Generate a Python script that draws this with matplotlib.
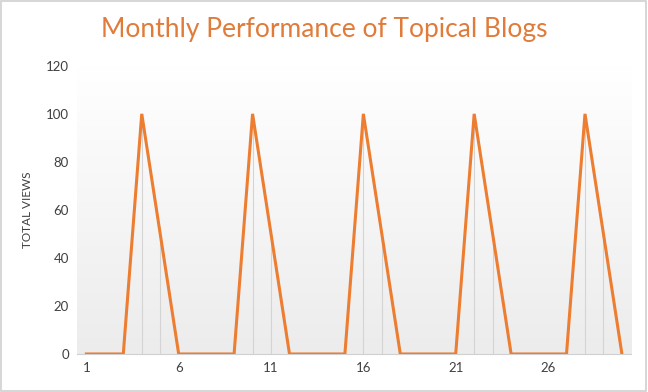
import numpy as np
import matplotlib.pyplot as plt
from matplotlib.patches import Rectangle

plt.rcParams['font.family'] = ['Lato', 'DejaVu Sans']

days = list(range(1, 31))
views = [0, 0, 0, 100, 50, 0, 0, 0, 0, 100, 50, 0, 0, 0, 0, 100, 50, 0,
         0, 0, 0, 100, 50, 0, 0, 0, 0, 100, 50, 0]
x_ticks = [1, 6, 11, 16, 21, 26]
y_ticks = [0, 20, 40, 60, 80, 100, 120]

orange = '#ED7D31'

fig = plt.figure(figsize=(6.48, 3.92), dpi=100)
fig.patches.append(Rectangle((0.002, 0.003), 0.995, 0.994, transform=fig.transFigure,
                             fill=False, edgecolor='#d0d0d0', linewidth=1.2))
ax = fig.add_axes([0.119, 0.097, 0.855, 0.735])

# gradient background, white at top to light gray at bottom
grad = np.linspace(0, 1, 256).reshape(-1, 1)
ax.imshow(grad, extent=[0, 1, 0, 1], transform=ax.transAxes, aspect='auto',
          cmap=plt.matplotlib.colors.LinearSegmentedColormap.from_list('g', ['#ffffff', '#ececec']),
          origin='upper', zorder=0)

# drop lines
for d, v in zip(days, views):
    if v > 0:
        ax.plot([d, d], [0, v], color='#d4d4d4', linewidth=0.8, zorder=1)

ax.plot(days, views, color=orange, linewidth=2.2, zorder=3, solid_joinstyle='miter')

ax.set_xlim(0.5, 30.5)
ax.set_ylim(0, 120)
ax.set_xticks(x_ticks)
ax.set_yticks(y_ticks)
ax.tick_params(length=0, labelsize=9.5, colors='#404040', pad=6)
for s in ['top', 'right', 'left']:
    ax.spines[s].set_visible(False)
ax.spines['bottom'].set_color('#d0d0d0')
ax.spines['bottom'].set_zorder(2)

ax.set_ylabel('TOTAL VIEWS', fontsize=8.5, color='#404040', labelpad=9)
fig.text(0.5, 0.925, 'Monthly Performance of Topical Blogs', ha='center', va='center',
         fontsize=19, color='#E07B39')

fig.savefig('out.png', dpi=100)
